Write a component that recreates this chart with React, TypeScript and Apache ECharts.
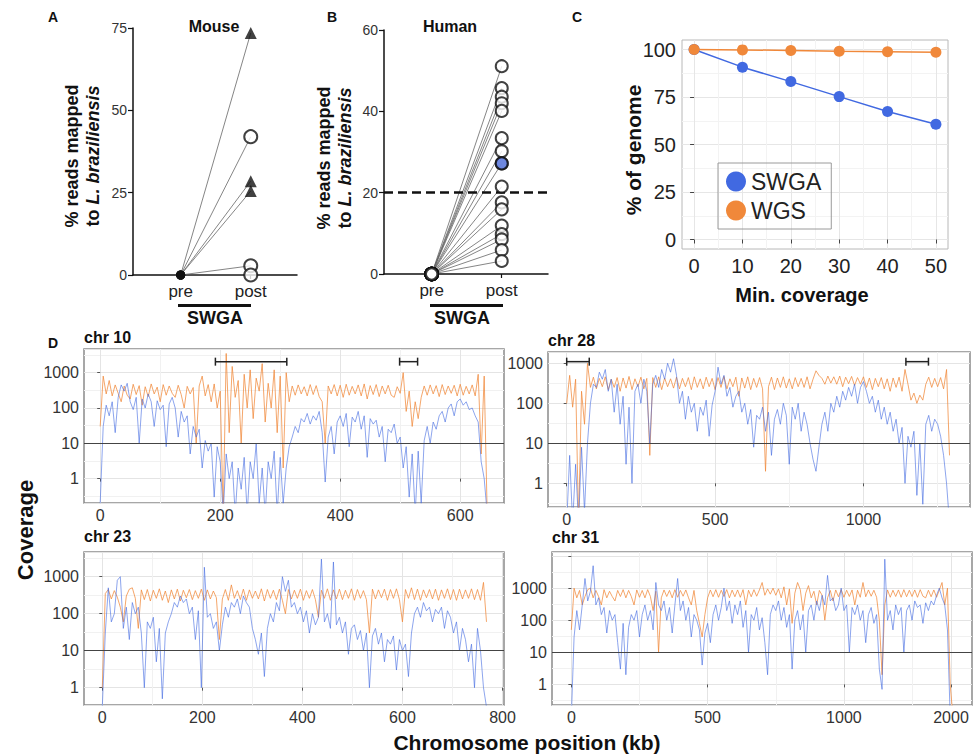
import React, { useEffect, useRef } from 'react';
import * as echarts from 'echarts';

const FONT = '"Liberation Sans", Arial, Helvetica, sans-serif';
const AX_TEXT = '#333';
const BLUE = '#4169E1';
const ORANGE = '#F0883A';

// ---------- Panel A (Mouse) ----------
const mouseTriangles = [73.5, 28.5, 25.5];
const mouseCircles = [42, 2.8, 0];
const mousePre = [0, 0, 0, 0, 0, 0];

// ---------- Panel B (Human) ----------
const humanPost = [51.1, 45.7, 43.6, 42.0, 40.1, 33.4, 30.2, 27.2, 21.5, 17.6, 15.9, 11.9, 9.8, 8.5, 5.9, 3.2];
const humanPre = [0, 0, 0, 0, 0, 0, 0, 0, 0, 0, 0, 0, 0, 0, 0, 0];
const humanHighlight = [27.2];
const humanThreshold = 20;

const swgaLabels = ['pre', 'post'];

// ---------- Panel C ----------
const minCoverage = [0, 10, 20, 30, 40, 50];
const swgaGenome = [100, 90.7, 83.1, 75.2, 67.4, 60.7];
const wgsGenome = [100, 99.8, 99.5, 99.1, 98.8, 98.5];
const genomeTicks = [0, 25, 50, 75, 100];
const genomeMinor = [12.5, 37.5, 62.5, 87.5];
const coverageMinor = [5, 15, 25, 35, 45];

// ---------- Panel D (coverage, kb bins) ----------
const chr10Step = 5;
const chr10Swga = [0.2,30,120,60,150,20,200,450,300,500,
150,90,200,10,180,100,250,150,30,160,
90,120,8,130,200,100,15,80,40,60,
5,30,15,25,2,12,6,10,0.3,8,
3,0.1,5,1,3,0.1,2,0.5,4,0.1,
3,1,10,0.2,2,0.1,3,1,6,0.1,
4,0.2,2,8,15,30,20,50,40,70,
35,60,45,80,20,0.8,15,30,5,40,
60,30,70,8,55,40,80,25,60,4,
50,35,45,15,30,3,25,20,35,10,
15,2,8,0.3,5,0.1,6,0.2,12,30,
10,40,25,60,80,40,100,130,60,150,
180,120,150,90,100,60,40,3,1,0.1];
const chr10Wgs = [30,800,250,600,220,450,260,150,420,230,
180,470,240,430,120,400,210,480,250,390,
150,460,230,420,260,200,440,240,100,410,
250,380,10,420,800,220,460,150,480,100,
300,0.1,3500,20,1500,200,600,10,900,100,
1200,50,700,300,1800,40,500,100,1200,20,
800,2,1000,150,420,230,450,250,400,220,
460,240,430,210,150,10,420,250,460,220,
440,200,470,230,410,250,450,220,480,180,
430,240,460,210,420,250,440,230,200,400,
260,1000,80,300,30,150,50,200,420,230,
450,250,430,210,460,240,420,260,440,220,
470,230,410,250,450,220,900,5,800,0.1];
const chr10Brackets = [[192, 311, 2050], [499, 529, 2050]];
const chr10XTicks = [0, 200, 400, 600];
const chr10XMinor = [100, 300, 500];

const chr28Step = 10;
const chr28Swga = [0.1,5,0.1,3,0.1,8,0.2,10,100,300,
250,600,400,700,200,400,60,300,30,150,
3,80,1,200,300,100,400,200,10,300,
500,250,700,400,1000,600,1300,500,100,200,
40,150,60,100,20,80,50,120,15,90,
200,800,300,500,150,250,80,150,200,60,
100,30,70,8,50,40,80,20,60,5,
40,70,30,100,50,3,80,40,100,20,
60,30,10,4,2,8,30,60,20,100,
60,150,80,200,120,250,150,300,100,250,
350,200,100,150,60,120,40,80,30,60,
20,40,10,25,1,15,8,20,0.5,10,
0.3,30,50,20,40,30,15,5,1,0.1];
const chr28Wgs = [100,500,80,400,0.1,200,30,1000,250,450,
230,420,260,460,220,400,250,440,200,430,
240,470,220,410,260,450,230,420,5,440,
250,460,220,430,260,410,240,450,230,420,
260,440,220,460,250,410,230,450,260,420,
220,440,250,470,230,410,260,450,150,430,
240,460,220,420,250,440,230,2,260,450,
220,430,250,460,240,410,230,440,260,420,
250,460,230,400,650,500,420,300,480,320,
460,300,480,260,450,310,470,280,440,300,
460,250,430,220,420,260,440,230,410,200,
430,250,450,200,700,300,120,180,100,160,
120,300,450,250,420,260,440,230,700,5];
const chr28Brackets = [[0, 76, 1100], [1143, 1219, 1100]];
const chr28XTicks = [0, 500, 1000];
const chr28XMinor = [250, 750, 1250];

const chr23Step = 6;
const chr23Swga = [0.3,30,500,60,100,800,1000,40,150,20,
200,100,150,30,1,60,40,80,5,40,
0.5,30,60,100,200,150,300,200,250,100,
150,20,120,1,1800,80,100,40,60,10,
50,150,80,200,150,250,100,300,200,150,
40,20,8,30,2,40,100,60,200,120,
1000,400,800,150,200,100,150,60,120,30,
100,50,80,3000,60,100,40,2500,50,80,
30,60,8,40,50,20,35,10,30,1,
25,40,15,30,5,20,15,25,3,20,
10,15,2,30,100,150,80,200,120,150,
60,130,100,150,40,120,80,30,60,10,
40,20,5,15,1,40,10,1,0.3];
const chr23Wgs = [1,350,450,250,420,280,150,60,300,460,
500,260,40,440,240,450,220,430,260,470,
230,410,200,440,250,460,220,430,270,450,
240,420,260,460,230,440,250,410,270,20,
250,450,230,600,260,420,240,460,230,440,
260,410,250,470,220,450,260,430,240,460,
230,100,450,250,430,260,460,230,420,260,
450,240,80,430,260,470,230,440,250,460,
240,430,260,470,230,450,260,420,240,30,
460,250,440,270,460,230,450,260,470,240,
60,450,260,500,240,460,230,440,270,450,
250,460,230,440,260,470,240,450,230,460,
250,440,260,470,240,450,230,700,60];
const chr23Brackets: number[][] = [];
const chr23XTicks = [0, 200, 400, 600, 800];
const chr23XMinor = [100, 300, 500, 700];

const chr31Step = 10;
const chr31Swga = [0.1,30,200,50,300,2000,400,800,5000,300,
500,150,250,40,200,100,150,20,3,80,
2,60,150,100,200,30,150,300,100,200,
50,1500,300,200,400,100,250,40,300,2000,
200,400,100,250,30,150,100,50,4,40,
80,20,150,300,100,250,1000,200,400,80,
300,150,400,60,200,10,150,100,250,50,
120,20,2,150,300,200,400,100,250,60,
150,3,100,200,50,150,10,200,300,100,
400,200,600,300,2500,400,500,200,300,1000,
200,300,10,250,150,300,100,200,20,150,
250,80,150,3,0.7,8000,100,200,50,300,
150,250,10,200,300,100,400,250,300,80,
350,200,400,300,600,1000,500,300,50,0.1,
0.1];
const chr31Wgs = [50,1000,500,850,300,550,900,1000,500,850,
550,300,900,500,800,550,400,850,550,900,
500,850,550,300,880,520,850,500,900,550,
200,800,10,500,880,550,850,500,900,520,
850,560,880,500,300,850,200,80,30,150,
500,880,540,900,520,860,550,900,500,870,
540,880,520,900,300,860,540,900,560,880,
1500,600,950,650,1000,600,950,500,1100,300,
950,80,700,1500,900,200,700,1200,500,800,
300,850,600,100,500,850,400,880,540,900,
520,860,550,880,300,860,520,1500,540,880,
560,860,520,100,2,300,880,520,860,550,
880,520,900,540,860,550,880,520,900,560,
500,860,540,880,520,870,1500,300,1000,1,
0.1];
const chr31Brackets: number[][] = [];
const chr31XTickPos = [0, 500, 1000, 1393];
const chr31XTickLabels = ['0', '500', '1000', '2000'];
const chr31XMinor = [250, 750, 1250];

const logLabels = [1, 10, 100, 1000];
const logMinor = [-0.5, 0.5, 1.5, 2.5, 3.5];
const coverageThreshold = 10;

type DPanel = {
  name: string; step: number; swga: number[]; wgs: number[];
  xMin: number; xMax: number; yMin: number; yMax: number;
  xTicks: number[]; xLabels: string[]; xMinor: number[];
  brackets: number[][];
  grid: { left: number; top: number; width: number; height: number };
};

const dPanels: DPanel[] = [
  { name: 'chr 10', step: chr10Step, swga: chr10Swga, wgs: chr10Wgs, xMin: -27, xMax: 673, yMin: 0.204, yMax: 4680,
    xTicks: chr10XTicks, xLabels: chr10XTicks.map(String), xMinor: chr10XMinor, brackets: chr10Brackets,
    grid: { left: 84, top: 349, width: 420, height: 154 } },
  { name: 'chr 28', step: chr28Step, swga: chr28Swga, wgs: chr28Wgs, xMin: -63, xMax: 1359, yMin: 0.256, yMax: 1917,
    xTicks: chr28XTicks, xLabels: chr28XTicks.map(String), xMinor: chr28XMinor, brackets: chr28Brackets,
    grid: { left: 548, top: 352, width: 422, height: 155 } },
  { name: 'chr 23', step: chr23Step, swga: chr23Swga, wgs: chr23Wgs, xMin: -36.6, xMax: 803, yMin: 0.34, yMax: 4650,
    xTicks: chr23XTicks, xLabels: chr23XTicks.map(String), xMinor: chr23XMinor, brackets: chr23Brackets,
    grid: { left: 84, top: 552, width: 420, height: 153 } },
  { name: 'chr 31', step: chr31Step, swga: chr31Swga, wgs: chr31Wgs, xMin: -71, xMax: 1470, yMin: 0.228, yMax: 13400,
    xTicks: chr31XTickPos, xLabels: chr31XTickLabels, xMinor: chr31XMinor, brackets: chr31Brackets,
    grid: { left: 552, top: 552, width: 420, height: 153 } },
];

const titlePos: [number, number][] = [[84, 337], [548, 340], [84, 536], [552, 537]];

function buildOption() {
  const grid: any[] = [
    { left: 133, top: 28, width: 164, height: 247 },
    { left: 384, top: 30, width: 164, height: 244 },
    { left: 682, top: 40, width: 266, height: 209, show: true, borderColor: '#b8b8b8', borderWidth: 1 },
  ];
  const xAxis: any[] = [];
  const yAxis: any[] = [];
  const series: any[] = [];

  const abX = (gi: number) => ({
    gridIndex: gi, type: 'value', min: -0.68, max: 1.66,
    axisLine: { show: true, onZero: false, lineStyle: { color: '#111', width: 1.5 } },
    axisTick: { show: true, customValues: [0, 1], length: 4, lineStyle: { color: '#111', width: 1.2 } },
    axisLabel: { customValues: [0, 1], formatter: (v: number) => swgaLabels[Math.round(v)],
      fontSize: 17, color: '#222', margin: 8, fontFamily: FONT },
    splitLine: { show: false },
  });
  const abY = (gi: number, max: number, interval: number) => ({
    gridIndex: gi, type: 'value', min: 0, max, interval,
    axisLine: { show: true, onZero: false, lineStyle: { color: '#111', width: 1.5 } },
    axisTick: { show: true, length: 5, lineStyle: { color: '#111', width: 1.2 } },
    axisLabel: { fontSize: 14, color: '#333', margin: 6, fontFamily: FONT },
    splitLine: { show: false },
  });
  xAxis.push(abX(0), abX(1));
  yAxis.push(abY(0, 75, 25), abY(1, 60, 20));

  // C axes
  xAxis.push({
    gridIndex: 2, type: 'value', min: -2.5, max: 52.5,
    axisLine: { show: false },
    axisTick: { show: true, customValues: minCoverage, length: 4, lineStyle: { color: '#444' } },
    axisLabel: { customValues: minCoverage, fontSize: 20, color: '#222', margin: 7, fontFamily: FONT },
    splitLine: { show: true, lineStyle: { color: '#e6e6e6' } },
  });
  xAxis.push({
    gridIndex: 2, type: 'value', position: 'top', min: -2.5, max: 52.5,
    axisLine: { show: false }, axisTick: { show: false, customValues: coverageMinor },
    axisLabel: { show: false }, splitLine: { show: true, lineStyle: { color: '#f3f3f3' } },
  });
  yAxis.push({
    gridIndex: 2, type: 'value', min: -5, max: 105,
    axisLine: { show: false },
    axisTick: { show: true, customValues: genomeTicks, length: 4, lineStyle: { color: '#444' } },
    axisLabel: { customValues: genomeTicks, fontSize: 20, color: '#222', margin: 6, fontFamily: FONT },
    splitLine: { show: true, lineStyle: { color: '#e6e6e6' } },
  });
  yAxis.push({
    gridIndex: 2, type: 'value', position: 'right', min: -5, max: 105,
    axisLine: { show: false }, axisTick: { show: false, customValues: genomeMinor },
    axisLabel: { show: false }, splitLine: { show: true, lineStyle: { color: '#f3f3f3' } },
  });

  // A series
  const mousePost = [...mouseTriangles, ...mouseCircles];
  mousePost.forEach((v, i) => {
    series.push({ type: 'line', xAxisIndex: 0, yAxisIndex: 0, data: [[0, mousePre[i]], [1, v]], symbol: 'none',
      silent: true, lineStyle: { color: '#666', width: 0.8 }, z: 2 });
  });
  series.push({ type: 'scatter', xAxisIndex: 0, yAxisIndex: 0, data: mousePre.map((v) => [0, v]), symbol: 'circle',
    symbolSize: 9, itemStyle: { color: '#111' }, z: 5 });
  series.push({ type: 'scatter', xAxisIndex: 0, yAxisIndex: 0, data: mouseTriangles.map((v) => [1, v]), symbol: 'triangle',
    symbolSize: 12, itemStyle: { color: '#111' }, z: 5 });
  series.push({ type: 'scatter', xAxisIndex: 0, yAxisIndex: 0, data: mouseCircles.map((v) => [1, v]), symbol: 'circle',
    symbolSize: 13, itemStyle: { color: '#fff', borderColor: '#111', borderWidth: 2 }, z: 5 });

  // B series
  humanPost.forEach((v, i) => {
    const s: any = { type: 'line', xAxisIndex: 1, yAxisIndex: 1, data: [[0, humanPre[i]], [1, v]], symbol: 'none',
      silent: true, lineStyle: { color: '#666', width: 0.8 }, z: 2 };
    if (i === 0) {
      s.markLine = { silent: true, symbol: 'none', label: { show: false },
        lineStyle: { type: [9, 5], color: '#111', width: 2.5 }, data: [{ yAxis: humanThreshold }] };
    }
    series.push(s);
  });
  series.push({ type: 'scatter', xAxisIndex: 1, yAxisIndex: 1, data: humanPre.map((v) => [0, v]), symbol: 'circle',
    symbolSize: 12, itemStyle: { color: '#fff', borderColor: '#111', borderWidth: 2.5 }, z: 5 });
  series.push({ type: 'scatter', xAxisIndex: 1, yAxisIndex: 1, data: humanPost.map((v) => [1, v]), symbol: 'circle',
    symbolSize: 12, itemStyle: { color: '#fff', borderColor: '#111', borderWidth: 2 }, z: 5 });
  series.push({ type: 'scatter', xAxisIndex: 1, yAxisIndex: 1, data: humanHighlight.map((v) => [1, v]), symbol: 'circle',
    symbolSize: 12, itemStyle: { color: '#4a6ad8', borderColor: '#111', borderWidth: 2 }, z: 6 });

  // C series
  series.push({ name: 'SWGA', type: 'line', xAxisIndex: 2, yAxisIndex: 2, data: minCoverage.map((x, i) => [x, swgaGenome[i]]),
    symbol: 'circle', symbolSize: 11, itemStyle: { color: BLUE }, lineStyle: { color: BLUE, width: 1.5 }, z: 3 });
  series.push({ name: 'WGS', type: 'line', xAxisIndex: 2, yAxisIndex: 2, data: minCoverage.map((x, i) => [x, wgsGenome[i]]),
    symbol: 'circle', symbolSize: 11, itemStyle: { color: ORANGE }, lineStyle: { color: ORANGE, width: 1.5 }, z: 4 });

  // D panels
  dPanels.forEach((p, k) => {
    const gi = 3 + k;
    const xi = 4 + 2 * k;
    const yi = 4 + 2 * k;
    grid.push({ ...p.grid, show: true, borderColor: '#8a8a8a', borderWidth: 1.5 });
    xAxis.push({
      gridIndex: gi, type: 'value', min: p.xMin, max: p.xMax,
      axisLine: { show: false },
      axisTick: { show: true, customValues: p.xTicks, length: 3, lineStyle: { color: '#555' } },
      axisLabel: { customValues: p.xTicks, formatter: (v: number) => p.xLabels[p.xTicks.indexOf(v)] ?? String(v),
        fontSize: 16, color: AX_TEXT, margin: 4, fontFamily: FONT },
      splitLine: { show: true, lineStyle: { color: '#e4e4e4' } },
    });
    xAxis.push({
      gridIndex: gi, type: 'value', position: 'top', min: p.xMin, max: p.xMax,
      axisLine: { show: false }, axisTick: { show: false, customValues: p.xMinor },
      axisLabel: { show: false }, splitLine: { show: true, lineStyle: { color: '#f1f1f1' } },
    });
    yAxis.push({
      gridIndex: gi, type: 'log', logBase: 10, min: p.yMin, max: p.yMax,
      axisLine: { show: false },
      axisTick: { show: true, length: 3, lineStyle: { color: '#555' } },
      axisLabel: { showMinLabel: false, showMaxLabel: false,
        formatter: (v: number) => (logLabels.indexOf(Math.round(v)) >= 0 ? String(Math.round(v)) : ''),
        fontSize: 16, color: AX_TEXT, margin: 5, fontFamily: FONT },
      splitLine: { show: true, lineStyle: { color: '#e4e4e4' } },
    });
    const lmin = Math.log10(p.yMin);
    const lmax = Math.log10(p.yMax);
    yAxis.push({
      gridIndex: gi, type: 'value', position: 'right', min: lmin, max: lmax,
      axisLine: { show: false },
      axisTick: { show: false, customValues: logMinor.filter((v) => v > lmin && v < lmax) },
      axisLabel: { show: false }, splitLine: { show: true, lineStyle: { color: '#f1f1f1' } },
    });
    series.push({
      name: 'WGS ' + p.name, type: 'line', xAxisIndex: xi, yAxisIndex: yi, showSymbol: false, symbol: 'none',
      data: p.wgs.map((v, i) => [i * p.step, v]), silent: true,
      lineStyle: { color: ORANGE, width: 1, opacity: 0.75 }, z: 2,
    });
    series.push({
      name: 'SWGA ' + p.name, type: 'line', xAxisIndex: xi, yAxisIndex: yi, showSymbol: false, symbol: 'none',
      data: p.swga.map((v, i) => [i * p.step, v]), silent: true,
      lineStyle: { color: BLUE, width: 1, opacity: 0.6 }, z: 3,
      markLine: { silent: true, symbol: 'none', label: { show: false },
        lineStyle: { type: 'solid', color: '#444', width: 1 }, data: [{ yAxis: coverageThreshold }] },
    });
    if (p.brackets.length) {
      series.push({
        type: 'custom', xAxisIndex: xi, yAxisIndex: yi, silent: true, z: 6,
        data: p.brackets, encode: { x: [0, 1], y: 2 },
        renderItem: (params: any, api: any) => {
          const a = api.coord([api.value(0), api.value(2)]);
          const b = api.coord([api.value(1), api.value(2)]);
          const h = 4;
          const st = { stroke: '#222', lineWidth: 1.5 };
          return {
            type: 'group',
            children: [
              { type: 'line', shape: { x1: a[0], y1: a[1], x2: b[0], y2: b[1] }, style: st },
              { type: 'line', shape: { x1: a[0], y1: a[1] - h, x2: a[0], y2: a[1] + h }, style: st },
              { type: 'line', shape: { x1: b[0], y1: b[1] - h, x2: b[0], y2: b[1] + h }, style: st },
            ],
          };
        },
      });
    }
  });

  const bold = (size: number) => ({ fontFamily: FONT, fontWeight: 'bold', fontSize: size, fill: '#111' });
  const txt = (x: number, y: number, text: string, size: number, extra: any = {}) => ({
    type: 'text', x, y, silent: true, ...extra,
    style: { text, ...bold(size), align: 'center', verticalAlign: 'middle', ...(extra.style || {}) },
  });
  const yName = (x: number, y: number) => ({
    type: 'text', x, y, rotation: Math.PI / 2, silent: true,
    style: {
      text: '{n|% reads mapped}\n{n|to }{i|L. braziliensis}',
      align: 'center', verticalAlign: 'middle', fill: '#111',
      rich: {
        n: { fontFamily: FONT, fontWeight: 'bold', fontSize: 18, lineHeight: 21, fill: '#111' },
        i: { fontFamily: FONT, fontWeight: 'bold', fontStyle: 'italic', fontSize: 18, lineHeight: 21, fill: '#111' },
      },
    },
  });

  const graphic: any[] = [
    txt(53, 17, 'A', 14), txt(332, 17, 'B', 14), txt(577, 17, 'C', 14), txt(53, 343, 'D', 14),
    txt(214, 26, 'Mouse', 16), txt(450, 26, 'Human', 16),
    yName(82, 156), yName(334, 158),
    { type: 'rect', silent: true, shape: { x: 178, y: 304, width: 73, height: 3 }, style: { fill: '#111' } },
    { type: 'rect', silent: true, shape: { x: 430, y: 304, width: 73, height: 3 }, style: { fill: '#111' } },
    txt(215, 318, 'SWGA', 18), txt(462, 318, 'SWGA', 18),
    txt(633, 150, '% of genome', 21, { rotation: Math.PI / 2 }),
    txt(802, 295, 'Min. coverage', 20),
    txt(25, 530, 'Coverage', 22, { rotation: Math.PI / 2 }),
    txt(527, 742, 'Chromosome position (kb)', 21),
  ];
  dPanels.forEach((p, k) => {
    graphic.push({ type: 'text', x: titlePos[k][0], y: titlePos[k][1], silent: true,
      style: { text: p.name, ...bold(16), align: 'left', verticalAlign: 'middle' } });
  });

  return {
    animation: false,
    backgroundColor: '#fff',
    textStyle: { fontFamily: FONT },
    grid, xAxis, yAxis, series, graphic,
    legend: {
      data: ['SWGA', 'WGS'], left: 718, top: 163, orient: 'vertical', icon: 'circle',
      itemWidth: 20, itemHeight: 20, itemGap: 6, selectedMode: false,
      textStyle: { fontSize: 23, color: '#222', fontFamily: FONT },
      borderColor: '#9a9a9a', borderWidth: 1, padding: [7, 10, 7, 8],
    },
  };
}

export default function App() {
  const ref = useRef<HTMLDivElement>(null);
  useEffect(() => {
    const chart = echarts.init(ref.current!, null, { renderer: 'svg' });
    chart.setOption(buildOption() as any);
    return () => chart.dispose();
  }, []);
  return (
    <div
      ref={ref}
      style={{ position: 'fixed', left: 0, top: 0, width: 975, height: 756, background: '#fff' }}
    />
  );
}
